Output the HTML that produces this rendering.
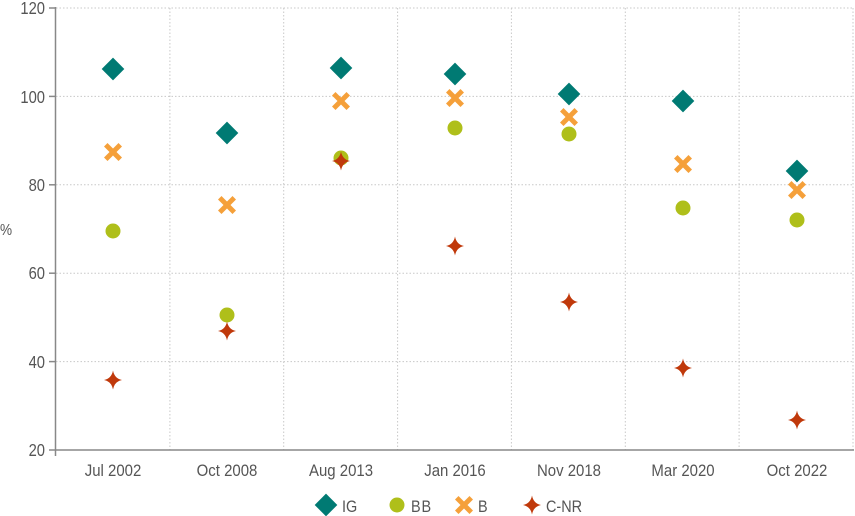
<!DOCTYPE html>
<html><head><meta charset="utf-8"><style>
html,body{margin:0;padding:0;background:#fff;}
svg{display:block;}
text{font-family:"Liberation Sans",sans-serif;fill:#555;}
</style></head><body>
<svg width="855" height="516" viewBox="0 0 855 516">
<defs>
<g id="dia"><rect x="-8" y="-8" width="16" height="16" transform="rotate(45)" fill="#007a73"/></g>
<g id="cir"><circle r="7.5" fill="#afbf1a"/></g>
<g id="crs"><path d="M-5.5,-9 L0,-3.5 L5.5,-9 L9,-5.5 L3.5,0 L9,5.5 L5.5,9 L0,3.5 L-5.5,9 L-9,5.5 L-3.5,0 L-9,-5.5 Z" fill="#f5a03a"/></g>
<g id="str"><path d="M0,-9.5 Q1.5,-1.5 9,0 Q1.5,1.5 0,9.5 Q-1.5,1.5 -9,0 Q-1.5,-1.5 0,-9.5 Z" fill="#c0390b"/></g>
</defs>
<g stroke="#c8c8c8" stroke-width="1" stroke-dasharray="1.5,2">
<line x1="56" y1="8" x2="853" y2="8"/>
<line x1="56" y1="96.4" x2="853" y2="96.4"/>
<line x1="56" y1="184.8" x2="853" y2="184.8"/>
<line x1="56" y1="273.2" x2="853" y2="273.2"/>
<line x1="56" y1="361.6" x2="853" y2="361.6"/>
<line x1="169.9" y1="8" x2="169.9" y2="450"/>
<line x1="283.7" y1="8" x2="283.7" y2="450"/>
<line x1="397.6" y1="8" x2="397.6" y2="450"/>
<line x1="511.4" y1="8" x2="511.4" y2="450"/>
<line x1="625.3" y1="8" x2="625.3" y2="450"/>
<line x1="739.1" y1="8" x2="739.1" y2="450"/>
<line x1="853" y1="8" x2="853" y2="450"/>
</g>
<g stroke="#888" stroke-width="1.5">
<line x1="55.5" y1="7" x2="55.5" y2="456"/>
<line x1="55" y1="450" x2="854" y2="450"/>
<line x1="49" y1="8" x2="55" y2="8"/><line x1="49" y1="96.4" x2="55" y2="96.4"/><line x1="49" y1="184.8" x2="55" y2="184.8"/><line x1="49" y1="273.2" x2="55" y2="273.2"/><line x1="49" y1="361.6" x2="55" y2="361.6"/><line x1="49" y1="450" x2="55" y2="450"/>
</g>
<g text-anchor="end" font-size="18">
<text transform="translate(45,14) scale(0.82,1)">120</text>
<text transform="translate(45,103) scale(0.82,1)">100</text>
<text transform="translate(45,191) scale(0.82,1)">80</text>
<text transform="translate(45,279) scale(0.82,1)">60</text>
<text transform="translate(45,368) scale(0.82,1)">40</text>
<text transform="translate(45,456) scale(0.82,1)">20</text>
</g>
<text transform="translate(0,235) scale(0.85,1)" font-size="16">%</text>
<g text-anchor="middle" font-size="17">
<text transform="translate(113,476) scale(0.88,1)">Jul 2002</text>
<text transform="translate(227,476) scale(0.88,1)">Oct 2008</text>
<text transform="translate(341,476) scale(0.88,1)">Aug 2013</text>
<text transform="translate(455,476) scale(0.88,1)">Jan 2016</text>
<text transform="translate(569,476) scale(0.88,1)">Nov 2018</text>
<text transform="translate(683,476) scale(0.88,1)">Mar 2020</text>
<text transform="translate(797,476) scale(0.88,1)">Oct 2022</text>
</g>
<use href="#cir" x="113" y="231"/><use href="#cir" x="227" y="315"/><use href="#cir" x="341" y="158"/><use href="#cir" x="455" y="128"/><use href="#cir" x="569" y="134"/><use href="#cir" x="683" y="208"/><use href="#cir" x="797" y="220"/>
<use href="#crs" x="113" y="152"/><use href="#crs" x="227" y="205"/><use href="#crs" x="341" y="101"/><use href="#crs" x="455" y="98"/><use href="#crs" x="569" y="117"/><use href="#crs" x="683" y="164"/><use href="#crs" x="797" y="190"/>
<use href="#str" x="113" y="380"/><use href="#str" x="227" y="331"/><use href="#str" x="341" y="161"/><use href="#str" x="455" y="246"/><use href="#str" x="569" y="302"/><use href="#str" x="683" y="368"/><use href="#str" x="797" y="420"/>
<use href="#dia" x="113" y="69"/><use href="#dia" x="227" y="133"/><use href="#dia" x="341" y="68"/><use href="#dia" x="455" y="74"/><use href="#dia" x="569" y="94"/><use href="#dia" x="683" y="101"/><use href="#dia" x="797" y="171"/>
<use href="#dia" x="326" y="505"/><text transform="translate(342,512) scale(0.85,1)" font-size="17">IG</text>
<use href="#cir" x="397" y="505"/><text transform="translate(411,512) scale(0.85,1)" font-size="17" letter-spacing="1">BB</text>
<use href="#crs" x="464" y="505"/><text transform="translate(478,512) scale(0.85,1)" font-size="17">B</text>
<use href="#str" x="532" y="505"/><text transform="translate(546,512) scale(0.85,1)" font-size="17">C-NR</text>
</svg>
</body></html>
